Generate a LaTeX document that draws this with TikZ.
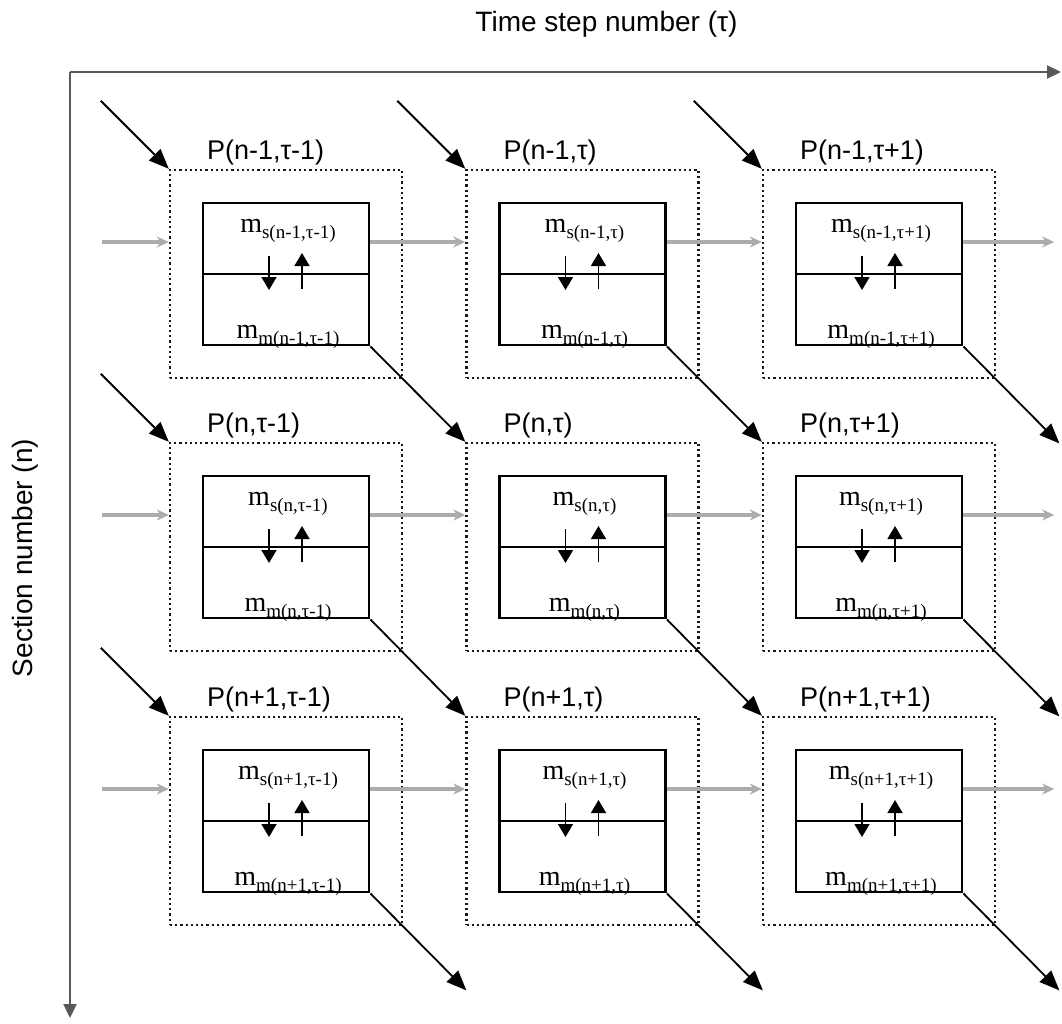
\documentclass[tikz,border=0pt]{standalone}
\usepackage{fontspec}
\setmainfont{Liberation Sans}
\newfontfamily\tmsfont{Liberation Serif}
\usetikzlibrary{calc,arrows.meta}
\newcommand\msub[1]{\raisebox{-6pt}{\fontsize{19}{20}\selectfont #1}}
\begin{document}
\begin{tikzpicture}[x=1pt,y=-1pt,
  outerbox/.style={draw=black!90, line width=2.4pt, dash pattern=on 2.2pt off 3pt,
    minimum width=232pt, minimum height=208pt, inner sep=0pt},
  innerbox/.style={draw=black, line width=2.8pt, minimum width=166pt,
    minimum height=142pt, inner sep=0pt},
  divider/.style={draw=black, line width=1.8pt},
  plabel/.style={font=\fontsize{27}{30}\selectfont, inner sep=0pt},
  axlabel/.style={font=\fontsize{28}{32}\selectfont, inner sep=0pt},
  mlabel/.style={font=\tmsfont\fontsize{28}{30}\selectfont, inner sep=0pt},
  vsmall/.style={draw=black, line width=1.6pt, -{Triangle[length=13pt,width=15pt]}},
  diag/.style={draw=black, line width=1.8pt, -{Triangle[length=20pt,width=16pt]}},
  flow/.style={draw=gray!65, line width=3.6pt, -{Stealth[length=12pt,width=11pt]}},
  axis/.style={draw=black!65, line width=2.2pt, -{Triangle[length=14pt,width=13pt]}}]
\useasboundingbox (0,0) rectangle (1062,1023);

% axes
\coordinate (org) at (70,72);
\coordinate (xend) at (1061,72);
\coordinate (yend) at (70,1018);
\draw[axis] (org) -- (xend);
\draw[axis] (org) -- (yend);
\node[axlabel, anchor=base] (tlabel) at (606.5,31) {Time step number (τ)};
\node[axlabel, rotate=90] (slabel) at (25,558) {Section number (n)};

% cells
\foreach \r/\rs/\ty in {1/n-1/170, 2/n/443, 3/n+1/717} {
  \foreach \c/\cs/\lx in {1/τ-1/170, 2/τ/466.5, 3/τ+1/763} {
    \node[outerbox] (o\r\c) at (\lx+116, \ty+104) {};
    \node[innerbox] (i\r\c) at (o\r\c.center) {};
    \draw[divider] (i\r\c.west) -- (i\r\c.east);
    \node[plabel, anchor=base west] (p\r\c) at ($(o\r\c.north west)+(38,-9)$) {P(\rs,\cs)};
    \node[mlabel, anchor=base] (ms\r\c) at ($(i\r\c.north)+(2,31)$) {m\msub{s(\rs,\cs)}};
    \node[mlabel, anchor=base] (mm\r\c) at ($(i\r\c.south)+(2,-8)$) {m\msub{m(\rs,\cs)}};
    \coordinate (da\r\c) at ($(i\r\c.center)+(-17,-18)$);
    \coordinate (db\r\c) at ($(i\r\c.center)+(-17,16)$);
    \coordinate (ua\r\c) at ($(i\r\c.center)+(16,15)$);
    \coordinate (ub\r\c) at ($(i\r\c.center)+(16,-21)$);
    \draw[vsmall] (da\r\c) -- (db\r\c);
    \draw[vsmall] (ua\r\c) -- (ub\r\c);
  }
}

% horizontal flows (gray)
\foreach \r in {1,2,3} {
  \coordinate (gs\r) at ($(o\r1.west)+(-67,-32)$);
  \coordinate (ge\r) at ($(o\r3.east)+(58,-32)$);
  \draw[flow] (gs\r) -- ($(o\r1.west)+(0,-32)$);
  \draw[flow] ($(i\r1.east)+(0,-32)$) -- ($(o\r2.west)+(0,-32)$);
  \draw[flow] ($(i\r2.east)+(0,-32)$) -- ($(o\r3.west)+(0,-32)$);
  \draw[flow] ($(i\r3.east)+(0,-32)$) -- (ge\r);
}

% diagonal arrows: incoming from outside
\foreach \n in {11,12,13,21,31} {
  \coordinate (ds\n) at ($(o\n.north west)+(-68,-68)$);
  \draw[diag] (ds\n) -- (o\n.north west);
}
% diagonal arrows between cells
\draw[diag] (i11.south east) -- (o22.north west);
\draw[diag] (i12.south east) -- (o23.north west);
\draw[diag] (i21.south east) -- (o32.north west);
\draw[diag] (i22.south east) -- (o33.north west);
% diagonal arrows leaving the grid
\foreach \n in {13,23,33,31,32} {
  \coordinate (de\n) at ($(i\n.south east)+(96,97)$);
  \draw[diag] (i\n.south east) -- (de\n);
}
\end{tikzpicture}
\end{document}
